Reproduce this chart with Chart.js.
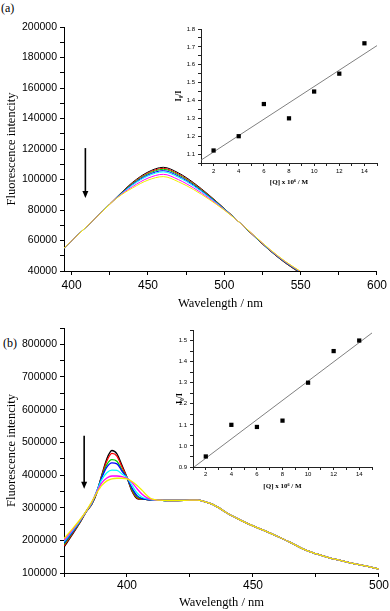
<!DOCTYPE html>
<html>
<head>
<meta charset="utf-8">
<script src="https://cdn.jsdelivr.net/npm/chart.js@4.4.0/dist/chart.umd.min.js"></script>
<style>
body{margin:0;background:#fff;width:390px;height:611px;position:relative;overflow:hidden}
canvas{position:absolute}
.lab{position:absolute;font:12px "Liberation Serif",serif;color:#000}
</style>
</head>
<body>
<div class="lab" style="left:1px;top:1px">(a)</div>
<div class="lab" style="left:3px;top:336px">(b)</div>
<canvas id="mainA" width="390" height="312" style="left:0;top:0"></canvas>
<canvas id="insetA" width="225" height="180" style="left:160px;top:10px"></canvas>
<canvas id="mainB" width="390" height="299" style="left:0;top:312px"></canvas>
<canvas id="insetB" width="235" height="180" style="left:150px;top:315px"></canvas>
<script>
// panel (a) spectra
const wlA = [395,400,410,420,430,440,450,460,470,480,490,500,510,520,530,540,550];
const aBlack   = [55000,59800,69300,78900,88900,98200,104900,108000,104300,97800,89800,81000,71800,62300,53200,45200,38500];
const aRed     = [55000,59800,69300,78900,88800,97800,104300,107300,103600,97300,89500,80900,71800,62400,53400,45400,38700];
const aGreen   = [55000,59800,69300,78900,88700,97400,103700,106700,103000,96800,89200,80800,71800,62500,53500,45600,38900];
const aBlue    = [55000,59800,69300,78900,88600,96900,103000,105800,102200,96200,88800,80600,71800,62600,53600,45700,39100];
const aCyan    = [55000,59800,69300,78900,88500,96400,102300,105000,101400,95600,88400,80500,71800,62700,53700,45900,39300];
const aMagenta = [55000,59800,69300,78900,88300,95400,100900,103400,99900,94400,87700,80200,71800,62800,53900,46100,39500];
const aYellow  = [55000,59800,69300,78900,88100,94500,99600,101900,98500,93300,87000,79900,71800,62900,54100,46300,39700];

// panel (b) spectra: peak region per curve + common tail
const wlBPeak = [375,378,381,384,386,388,390,392,394,396,398,400,402,404,406,408,410];
const bBlack   = [179000,214000,250000,290000,310000,345000,400000,450000,475000,465000,430000,393000,350000,328000,326000,325000,324000];
const bRed     = [183000,217000,251000,290000,311000,347000,398000,443000,466000,458000,425000,392000,352000,330000,326000,325000,324000];
const bGreen   = [188000,220000,253000,290000,312000,349000,395000,432000,447000,442000,416000,391000,356000,333000,327000,325000,324000];
const bBlue    = [192000,222000,254000,291000,313000,350000,392000,424000,437000,434000,412000,391000,360000,337000,328000,325000,324000];
const bCyan    = [196000,225000,256000,291000,314000,351000,386000,407000,415000,414000,403000,392000,368000,345000,332000,327000,324000];
const bMagenta = [200000,228000,258000,291000,316000,348000,376000,391000,397000,397000,395000,390000,377000,358000,341000,330000,325000];
const bYellow  = [205000,232000,260000,292000,318000,345000,368000,382000,388000,390000,390000,388000,380000,368000,353000,337000,326000];
const wlBTail = [413,416,420,425,428,431,434,437,440,445,450,455,460,465,470,475,480,485,490,495,500];
const bTail   = [323000,322000,322000,323000,323000,318000,310000,297000,282000,262000,244000,228000,211000,193000,173000,159000,147000,138000,129000,121000,112000];

// Stern-Volmer insets
const conc = [2,4,6,8,10,12,14];
const ratioA = [1.12,1.20,1.38,1.30,1.45,1.55,1.72];
const ratioB = [0.95,1.10,1.09,1.12,1.30,1.45,1.50];
const fitX = [1,15];
const fitA = [1.066,1.707];
const fitB = [0.896,1.536];

const colors = ['#000000','#ff0000','#00cc00','#0000ff','#00ffff','#ff00ff','#f0f000'];
const sans = '"Liberation Sans", Arial, sans-serif';
const serif = '"Liberation Serif", "Times New Roman", serif';

function pts(xs, ys){ return xs.map((x,i)=>({x:x, y:ys[i]})); }
// ticks on every multiple of step inside the axis range
function stepTicks(step){
  return function(axis){
    const t = [];
    for (let n = Math.ceil(axis.min/step - 1e-9); n*step <= axis.max + 1e-9; n++) t.push({value: +(n*step).toFixed(6)});
    axis.ticks = t;
  };
}

const arrowPlugin = {
  id: 'arrow',
  afterDatasetsDraw(chart, args, o){
    const ctx = chart.ctx, x = chart.scales.x, y = chart.scales.y;
    const px = x.getPixelForValue(o.x), y0 = y.getPixelForValue(o.from), y1 = y.getPixelForValue(o.to);
    ctx.save();
    ctx.strokeStyle = '#000'; ctx.fillStyle = '#000'; ctx.lineWidth = 1.6;
    ctx.beginPath(); ctx.moveTo(px, y0); ctx.lineTo(px, y1 - 5); ctx.stroke();
    ctx.beginPath(); ctx.moveTo(px - 3, y1 - 7); ctx.lineTo(px + 3, y1 - 7); ctx.lineTo(px, y1); ctx.closePath(); ctx.fill();
    ctx.restore();
  }
};

function mainChart(id, series, cfg){
  const sets = series.map((s,i)=>({
    data: s, borderColor: colors[i], borderWidth: cfg.lw, pointRadius: 0,
    cubicInterpolationMode: 'monotone', fill: false
  })).reverse();
  return new Chart(document.getElementById(id), {
    type: 'line',
    data: { datasets: sets },
    plugins: [arrowPlugin],
    options: {
      responsive: false, animation: false,
      layout: { padding: { top: cfg.padTop, right: 9, left: 0, bottom: 0 } },
      plugins: { legend: {display:false}, tooltip: {enabled:false}, arrow: cfg.arrow },
      scales: {
        x: {
          type: 'linear', min: cfg.xMin, max: cfg.xMax,
          afterBuildTicks: stepTicks(25),
          afterFit: s => { s.height = cfg.xH; },
          ticks: { autoSkip: false, maxRotation: 0, color: '#000', padding: cfg.tickPad,
                   font: {family: sans, size: 12}, callback: v => v % 50 === 0 ? String(v) : '' },
          grid: { drawOnChartArea: false, tickLength: 4, tickColor: '#000' },
          border: { color: '#000', width: 1 },
          title: { display: true, text: 'Wavelength / nm', color: '#000',
                   font: {family: serif, size: 12.5}, padding: {top: 0, bottom: cfg.titlePad} }
        },
        y: {
          min: cfg.yMin, max: cfg.yMax,
          afterBuildTicks: stepTicks(cfg.yStep),
          afterFit: s => { s.width = 64; },
          ticks: { autoSkip: false, color: '#000', padding: 3,
                   font: {family: sans, size: 10.5},
                   callback: v => v % cfg.yLab === 0 ? String(v) : '' },
          grid: { drawOnChartArea: false, tickLength: 4, tickColor: '#000' },
          border: { color: '#000', width: 1 },
          title: { display: true, text: 'Fluorescence intencity', color: '#000',
                   font: {family: serif, size: 12.5}, padding: {top: 4, bottom: 0} }
        }
      }
    }
  });
}

mainChart('mainA',
  [aBlack,aRed,aGreen,aBlue,aCyan,aMagenta,aYellow].map(v => pts(wlA, v)),
  { lw: 1, padTop: 27, xMin: 395, xMax: 600, yMin: 40000, yMax: 200000, yStep: 10000, yLab: 20000,
    xH: 41, tickPad: 3, titlePad: 1, arrow: {x: 409, from: 120600, to: 87900} });

mainChart('mainB',
  [bBlack,bRed,bGreen,bBlue,bCyan,bMagenta,bYellow].map(v => pts(wlBPeak.concat(wlBTail), v.concat(bTail))),
  { lw: 1.3, padTop: 16, xMin: 375, xMax: 500, yMin: 100000, yMax: 850000, yStep: 50000, yLab: 100000,
    xH: 38, tickPad: 1, titlePad: 1, arrow: {x: 383, from: 520000, to: 358000} });

function insetChart(id, ratio, fit, cfg){
  return new Chart(document.getElementById(id), {
    type: 'scatter',
    data: { datasets: [
      { data: pts(conc, ratio), pointStyle: 'rect', pointRadius: 3, backgroundColor: '#000', borderColor: '#000', borderWidth: 0 },
      { data: pts(fitX, fit), showLine: true, pointRadius: 0, borderColor: '#808080', borderWidth: 1 }
    ] },
    options: {
      responsive: false, animation: false,
      layout: { padding: { top: cfg.padTop, right: cfg.padRight, left: 0, bottom: 0 } },
      plugins: { legend: {display:false}, tooltip: {enabled:false} },
      scales: {
        x: {
          type: 'linear', min: 1, max: 15,
          afterBuildTicks: stepTicks(1),
          afterFit: s => { s.height = cfg.xH; },
          ticks: { autoSkip: false, maxRotation: 0, color: '#000', padding: cfg.tickPad,
                   font: {family: sans, size: 6}, callback: v => v % 2 === 0 ? String(v) : '' },
          grid: { drawOnChartArea: false, tickLength: 3, tickColor: '#222' },
          border: { color: '#222', width: 1 },
          title: { display: true, text: '[Q] x 10\u2076 / M', color: '#000',
                   font: {family: serif, size: 7, weight: 'bold'}, padding: {top: 0, bottom: cfg.titlePad} }
        },
        y: {
          min: cfg.yMin, max: cfg.yMax,
          afterBuildTicks: stepTicks(0.05),
          afterFit: s => { s.width = cfg.yW; },
          ticks: { autoSkip: false, color: '#000', padding: 3,
                   font: {family: sans, size: 6},
                   callback: v => Math.round(v * 100) % 10 === 0 ? v.toFixed(1) : '' },
          grid: { drawOnChartArea: false, tickLength: 3, tickColor: '#222' },
          border: { color: '#222', width: 1 },
          title: { display: true, text: 'I\u2080/I', color: '#000',
                   font: {family: serif, size: 8, weight: 'bold'}, padding: {top: cfg.yTitlePad, bottom: 0} }
        }
      }
    }
  });
}

insetChart('insetA', ratioA, fitA,
  { padTop: 19, padRight: 8, xH: 27, tickPad: 2, titlePad: 4, yMin: 1.05, yMax: 1.8, yW: 41, yTitlePad: 14 });
insetChart('insetB', ratioB, fitB,
  { padTop: 15, padRight: 13, xH: 28, tickPad: 1, titlePad: 5, yMin: 0.9, yMax: 1.55, yW: 43, yTitlePad: 25 });
</script>
</body>
</html>
